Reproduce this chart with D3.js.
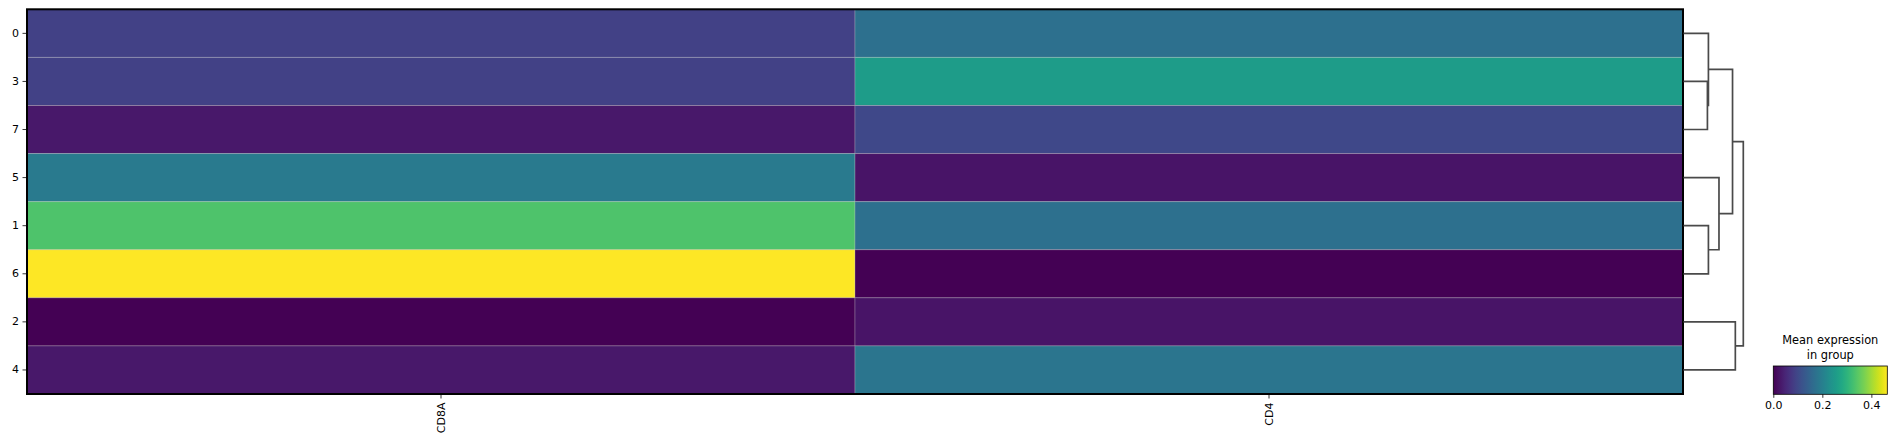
<!DOCTYPE html>
<html><head><meta charset="utf-8">
<script src="https://cdn.jsdelivr.net/npm/d3@7"></script>
<style>body{margin:0;background:#fff}svg{display:block;font-family:"DejaVu Sans",sans-serif}</style>
</head><body>
<script>
// ---- data ----
const groups = ["0","3","7","5","1","6","2","4"];
const genes = ["CD8A","CD4"];
const cd8a = [0.09, 0.09, 0.03, 0.19, 0.335, 0.465, 0.0, 0.03];
const cd4  = [0.17, 0.255, 0.10, 0.025, 0.17, 0.0, 0.025, 0.18];
const colorbarTicks = [0.0, 0.2, 0.4];
const vmax = 0.465;
// dendrogram merges: [childA, childB, height]; children are leaf labels or "m<i>"
const merges = [
  ["3","7",1.2],
  ["0","m0",1.25],
  ["1","6",1.25],
  ["5","m2",1.78],
  ["m1","m3",2.46],
  ["2","4",2.6],
  ["m4","m5",3.0]
];

const W = 1897, H = 446;
const svg = d3.select("body").append("svg").attr("width",W).attr("height",H);

const mLeft = 27, mRight = 1683, mTop = 9.3, mBottom = 394;
const x = d3.scaleBand().domain(genes).range([mLeft,mRight]);
const y = d3.scaleBand().domain(groups).range([mTop,mBottom]);
const color = d3.scaleSequential(d3.interpolateViridis).domain([0,vmax]);

const cells = [];
groups.forEach((g,i)=>{ cells.push({g, gene:"CD8A", v:cd8a[i]}); cells.push({g, gene:"CD4", v:cd4[i]}); });

svg.append("g").selectAll("rect").data(cells).join("rect")
  .attr("x",d=>x(d.gene)).attr("y",d=>y(d.g))
  .attr("width",x.bandwidth()).attr("height",y.bandwidth())
  .attr("fill",d=>color(d.v))
  .attr("stroke","rgba(200,200,200,0.3)").attr("stroke-width",1);

svg.append("rect").attr("x",mLeft).attr("y",mTop).attr("width",mRight-mLeft).attr("height",mBottom-mTop)
  .attr("fill","none").attr("stroke","#000").attr("stroke-width",2);

// axes
const yAxis = svg.append("g").attr("transform",`translate(${mLeft-1},0)`)
  .call(d3.axisLeft(y).tickSize(3.5).tickPadding(3.5));
yAxis.select(".domain").remove();
yAxis.selectAll("text").attr("font-size","11px").attr("fill","#000").attr("font-family","DejaVu Sans");
yAxis.selectAll("line").attr("stroke","#000").attr("stroke-width",0.8);

const xAxis = svg.append("g").attr("transform",`translate(0,${mBottom+1})`)
  .call(d3.axisBottom(x).tickSize(3.5).tickPadding(3.5));
xAxis.select(".domain").remove();
xAxis.selectAll("line").attr("stroke","#000").attr("stroke-width",0.8);
xAxis.selectAll("text").attr("font-size","11px").attr("fill","#000").attr("font-family","DejaVu Sans")
  .attr("transform","rotate(-90)").attr("text-anchor","end").attr("dy","0.32em").attr("x",-7.5).attr("y",0);

// dendrogram
const dx = d3.scaleLinear().domain([0,3.0]).range([mRight+0.5, 1743.3]);
const pos = {};
groups.forEach(g=>{ pos[g] = {y: y(g)+y.bandwidth()/2, h:0}; });
const dg = svg.append("g").attr("fill","none").attr("stroke","#4a4a4a").attr("stroke-width",1.7);
merges.forEach((m,i)=>{
  const a = pos[m[0]], b = pos[m[1]], h = m[2];
  dg.append("path").attr("d",
    `M${dx(a.h)},${a.y}H${dx(h)}V${b.y}H${dx(b.h)}`);
  pos["m"+i] = {y:(a.y+b.y)/2, h};
});

// colorbar
const cbL = 1773.3, cbR = 1887.3, cbT = 366, cbB = 394.3;
const cbx = d3.scaleLinear().domain([0,vmax]).range([cbL,cbR]);
const defs = svg.append("defs");
const grad = defs.append("linearGradient").attr("id","vir").attr("x1","0%").attr("x2","100%");
d3.range(0,1.0001,0.05).forEach(t=>grad.append("stop").attr("offset",(t*100)+"%").attr("stop-color",d3.interpolateViridis(t)));
svg.append("rect").attr("x",cbL).attr("y",cbT).attr("width",cbR-cbL).attr("height",cbB-cbT)
  .attr("fill","url(#vir)").attr("stroke","#000").attr("stroke-width",0.8);
const cbAxis = svg.append("g").attr("transform",`translate(0,${cbB})`)
  .call(d3.axisBottom(cbx).tickValues(colorbarTicks).tickFormat(d3.format(".1f")).tickSize(3.5).tickPadding(3.5));
cbAxis.select(".domain").remove();
cbAxis.selectAll("line").attr("stroke","#000").attr("stroke-width",0.8);
cbAxis.selectAll("text").attr("font-size","11px").attr("fill","#000").attr("font-family","DejaVu Sans");
const cbTitle = svg.append("text").attr("x",(cbL+cbR)/2).attr("text-anchor","middle")
  .attr("font-size","11.4px").attr("fill","#000");
cbTitle.append("tspan").attr("x",(cbL+cbR)/2).attr("y",344).text("Mean expression");
cbTitle.append("tspan").attr("x",(cbL+cbR)/2).attr("y",358.5).text("in group");
</script>
</body></html>
